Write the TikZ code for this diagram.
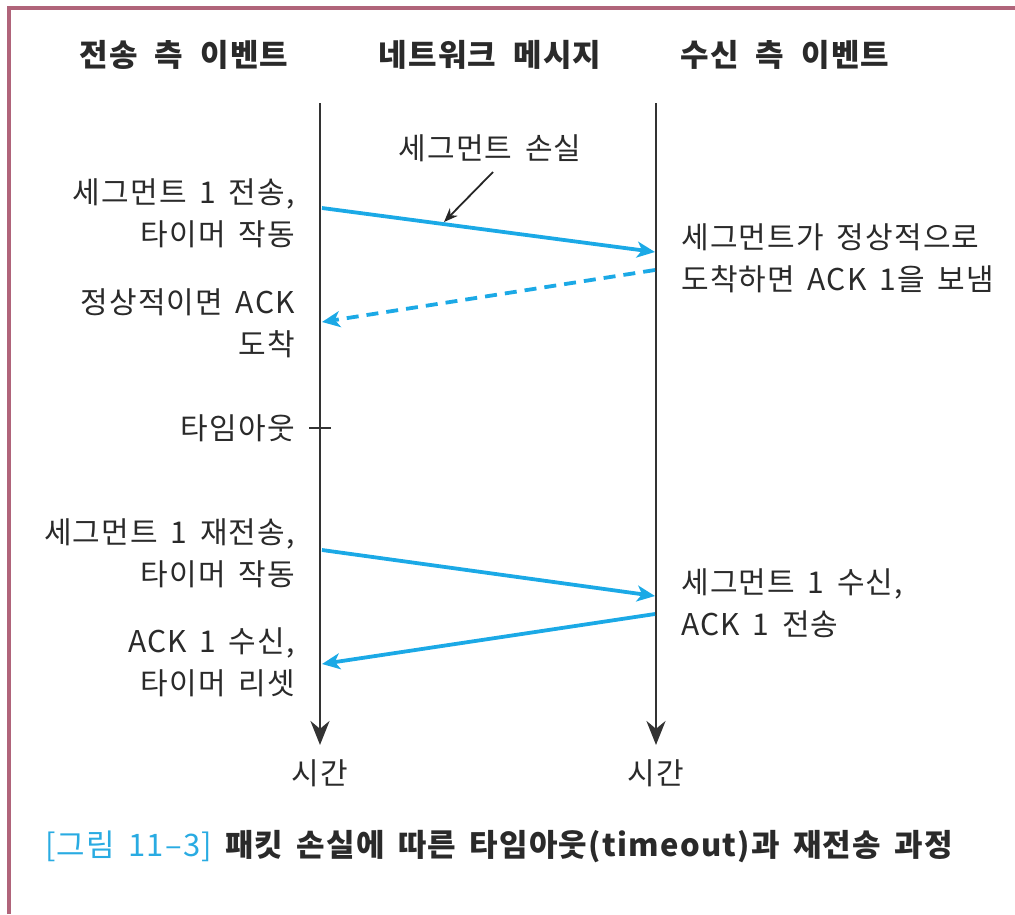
\documentclass[tikz,border=0pt]{standalone}
\usepackage{fontspec}
\setmainfont{Noto Sans CJK KR}[WordSpace=1.6,LetterSpace=4]
\usetikzlibrary{arrows.meta}
\definecolor{msgblue}{HTML}{1BA9E6}
\definecolor{capblue}{HTML}{29ABE2}
\definecolor{framecol}{HTML}{B0647A}
\definecolor{txt}{HTML}{2A2A2A}
\newcommand\hsp{\hspace{0.55em}}
\begin{document}
\begin{tikzpicture}[x=1pt,y=-1pt,
  lbl/.style={font=\fontsize{30}{42}\selectfont, inner sep=0pt, text=txt},
  hdr/.style={font=\fontsize{31}{36}\selectfont\bfseries, inner sep=0pt, text=txt},
  timeline/.style={line width=2.8pt, draw=black!80, -{Stealth[length=24pt,width=19pt]}},
  msg/.style={line width=3.8pt, draw=msgblue, -{Stealth[length=18pt,width=16pt,inset=5pt]}},
  msgdash/.style={msg, dash pattern=on 12pt off 8pt},
  ann/.style={line width=1.8pt, draw=black!85, -{Stealth[length=14pt,width=11pt]}},
  tick/.style={line width=1.6pt, draw=black!80}]
\useasboundingbox (0,0) rectangle (1015,914);
% frame
\draw[framecol, line width=3.5pt] (9,914) -- (9,8) -- (1015,8);
% headers
\node[hdr] (hS) at (184,55) {전송\hsp 측\hsp 이벤트};
\node[hdr] (hN) at (490,55) {네트워크\hsp 메시지};
\node[hdr] (hR) at (785,55) {수신\hsp 측\hsp 이벤트};
% timelines
\coordinate (Ltop) at (320,103);
\coordinate (Lbot) at (320,745);
\coordinate (Rtop) at (656,103);
\coordinate (Rbot) at (656,745);
\draw[timeline] (Ltop) -- (Lbot);
\draw[timeline] (Rtop) -- (Rbot);
\node[lbl] (tL) at (320,773) {시간};
\node[lbl] (tR) at (656,773) {시간};
% message endpoints
\coordinate (s1) at (322,208);
\coordinate (r1) at (655,252);
\coordinate (r2) at (655,270);
\coordinate (s2) at (322,322);
\coordinate (s3) at (322,550);
\coordinate (r3) at (655,596);
\coordinate (r4) at (655,614);
\coordinate (s4) at (322,664);
\draw[msg] (s1) -- (r1);
\draw[msgdash] (r2) -- (s2);
\draw[msg] (s3) -- (r3);
\draw[msg] (r4) -- (s4);
% loss annotation
\node[lbl] (loss) at (490,148) {세그먼트 손실};
\coordinate (lossend) at (444,222);
\draw[ann] (493,172) -- (lossend);
% timeout tick
\coordinate (tk1) at (309,428);
\coordinate (tk2) at (331,428);
\draw[tick] (tk1) -- (tk2);
% left labels
\node[lbl, anchor=east, align=right] (L1) at (295,213) {세그먼트 1 전송,\\타이머 작동};
\node[lbl, anchor=east, align=right] (L2) at (295,323) {정상적이면 ACK\\도착};
\node[lbl, anchor=east, align=right] (L3) at (295,428) {타임아웃};
\node[lbl, anchor=east, align=right] (L4) at (295,553) {세그먼트 1 재전송,\\타이머 작동};
\node[lbl, anchor=east, align=right] (L5) at (295,662) {ACK 1 수신,\\타이머 리셋};
% right labels
\node[lbl, anchor=west, align=left] (R1) at (681,258) {세그먼트가 정상적으로\\도착하면 ACK 1을 보냄};
\node[lbl, anchor=west, align=left] (R2) at (681,603) {세그먼트 1 수신,\\ACK 1 전송};
% caption
\node[inner sep=0pt, anchor=west, font=\fontsize{31}{36}\selectfont] (cap) at (45,847)
  {\textcolor{capblue}{[그림 11–3]}\ \textcolor{txt}{\bfseries 패킷 손실에 따른 타임아웃(timeout)과 재전송 과정}};
\end{tikzpicture}
\end{document}
